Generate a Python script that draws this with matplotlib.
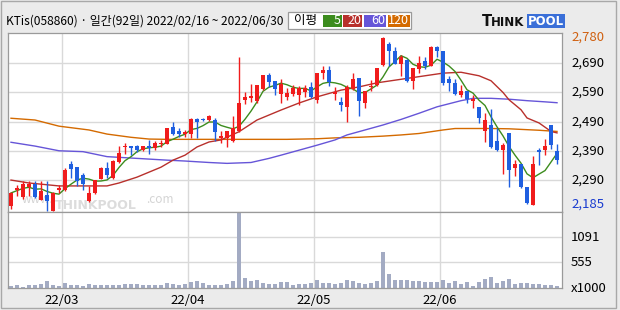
import matplotlib
matplotlib.use('Agg')
import matplotlib.pyplot as plt
import numpy as np
import pandas as pd
from matplotlib.patches import Rectangle

plt.rcParams['font.family'] = ['Noto Sans CJK KR', 'DejaVu Sans']

# ---------------- data ----------------
title = "KTis(058860) · 일간(92일) 2022/02/16 ~ 2022/06/30"
month_labels = ["22/03", "22/04", "22/05", "22/06"]
month_start_idx = [9, 30, 51, 72]

open_ = [2204, 2256, 2233, 2266, 2278, 2224, 2239, 2187, 2258, 2256,
         2346, 2334, 2307, 2219, 2247, 2296, 2332, 2298, 2354, 2404,
         2406, 2406, 2392, 2406, 2400, 2415, 2415, 2471, 2457, 2448,
         2448, 2499, 2501, 2495, 2495, 2433, 2434, 2423, 2457, 2563,
         2571, 2562, 2603, 2648, 2628, 2584, 2574, 2584, 2582, 2591,
         2607, 2565, 2656, 2665, 2584, 2556, 2540, 2603, 2639, 2554,
         2608, 2614, 2684, 2755, 2733, 2688, 2701, 2628, 2671, 2699,
         2682, 2745, 2730, 2635, 2624, 2582, 2596, 2562, 2540, 2460,
         2478, 2426, 2392, 2451, 2332, 2346, 2267, 2207, 2395, 2395,
         2478, 2389]
high = [2249, 2275, 2287, 2289, 2287, 2287, 2287, 2249, 2275, 2332,
        2355, 2336, 2315, 2270, 2292, 2334, 2351, 2359, 2407, 2417,
        2406, 2412, 2406, 2429, 2423, 2429, 2468, 2488, 2468, 2463,
        2503, 2503, 2503, 2514, 2503, 2457, 2457, 2510, 2710, 2593,
        2620, 2615, 2650, 2656, 2628, 2635, 2605, 2616, 2613, 2616,
        2625, 2658, 2679, 2682, 2607, 2573, 2616, 2656, 2639, 2596,
        2633, 2675, 2780, 2762, 2745, 2718, 2703, 2675, 2713, 2710,
        2747, 2747, 2732, 2647, 2635, 2616, 2596, 2582, 2540, 2520,
        2533, 2468, 2417, 2451, 2361, 2346, 2267, 2372, 2400, 2431,
        2478, 2415]
low = [2192, 2236, 2226, 2236, 2230, 2224, 2187, 2185, 2247, 2252,
       2298, 2270, 2258, 2216, 2245, 2294, 2298, 2296, 2350, 2381,
       2375, 2386, 2390, 2381, 2395, 2404, 2414, 2446, 2438, 2438,
       2434, 2434, 2493, 2491, 2426, 2417, 2404, 2421, 2455, 2551,
       2556, 2554, 2599, 2610, 2582, 2554, 2565, 2579, 2546, 2576,
       2571, 2554, 2635, 2613, 2565, 2528, 2489, 2599, 2510, 2537,
       2596, 2611, 2679, 2682, 2686, 2647, 2626, 2603, 2656, 2670,
       2680, 2710, 2616, 2596, 2582, 2576, 2554, 2537, 2486, 2421,
       2400, 2389, 2313, 2266, 2306, 2264, 2211, 2207, 2343, 2378,
       2397, 2346]
close = [2247, 2263, 2278, 2278, 2233, 2253, 2219, 2247, 2263, 2326,
         2330, 2289, 2279, 2247, 2292, 2332, 2307, 2357, 2382, 2408,
         2400, 2392, 2406, 2400, 2417, 2419, 2468, 2448, 2448, 2454,
         2499, 2488, 2495, 2510, 2454, 2440, 2457, 2468, 2554, 2574,
         2579, 2615, 2648, 2625, 2603, 2618, 2588, 2605, 2605, 2605,
         2573, 2658, 2665, 2625, 2593, 2548, 2608, 2635, 2562, 2596,
         2610, 2673, 2775, 2732, 2688, 2710, 2628, 2673, 2690, 2679,
         2745, 2730, 2624, 2624, 2585, 2596, 2567, 2567, 2503, 2495,
         2403, 2395, 2412, 2324, 2346, 2266, 2213, 2346, 2386, 2406,
         2412, 2361]
volume = [51, 72, 29, 72, 58, 87, 160, 72, 51, 116,
          72, 72, 51, 87, 72, 58, 58, 72, 72, 94,
          80, 80, 72, 58, 58, 72, 116, 94, 58, 80,
          123, 160, 116, 72, 72, 58, 80, 145, 1595, 210,
          152, 181, 116, 94, 94, 138, 138, 58, 94, 94,
          108, 181, 116, 101, 87, 116, 181, 145, 101, 87,
          101, 160, 768, 290, 181, 181, 167, 152, 160, 130,
          138, 123, 181, 116, 145, 87, 130, 51, 138, 203,
          246, 116, 152, 203, 87, 108, 116, 94, 87, 72,
          72, 51]

# moving averages (index, value)
ma20_idx = [0, 3, 8, 16, 18, 21, 25, 27, 29, 31, 33, 35, 38, 41, 45, 48, 51,
            55, 58, 61, 65, 70, 72, 75, 78, 80, 82, 83, 85, 86, 88, 90, 91]
ma20_val = [2291, 2281, 2271, 2271, 2281, 2301, 2335, 2359, 2376, 2404, 2421,
            2428, 2456, 2496, 2530, 2554, 2575, 2598, 2609, 2623, 2635, 2650,
            2656, 2659, 2647, 2630, 2590, 2565, 2531, 2503, 2486, 2457, 2452]
ma60_idx = [0, 4, 8, 12, 16, 21, 26, 29, 33, 36, 40, 43, 45, 48, 51, 54, 56,
            59, 62, 65, 68, 71, 75, 77, 80, 83, 86, 89, 91]
ma60_val = [2420, 2407, 2391, 2388, 2371, 2365, 2359, 2356, 2351, 2348, 2351,
            2365, 2376, 2393, 2410, 2428, 2445, 2462, 2479, 2498, 2519, 2541,
            2562, 2570, 2570, 2567, 2562, 2558, 2555]
ma120_idx = [0, 4, 8, 13, 16, 20, 23, 26, 46, 51, 54, 58, 62, 65, 68, 72, 74,
             80, 83, 86, 88, 91]
ma120_val = [2502, 2496, 2475, 2462, 2448, 2437, 2431, 2430, 2430, 2432, 2435,
             2437, 2441, 2445, 2450, 2462, 2467, 2467, 2466, 2463, 2461, 2457]

price_ticks = [2290, 2390, 2490, 2590, 2690]
vol_ticks = [555, 1091]

# ---------------- styling ----------------
W, H = 620, 310
UP = '#f01c1c'
DOWN = '#1f5fe0'
C5, C20, C60, C120 = '#3c8c1e', '#b8302c', '#6655d8', '#d46a00'
GRID = '#d9d9d9'
FRAME = '#9a9a9a'

def fx(px):
    return px / W

def fy(py):
    return 1 - py / H

fig = plt.figure(figsize=(6.2, 3.1), dpi=100)
fig.patch.set_facecolor('#ebebeb')

ax = fig.add_axes([fx(8), fy(212), fx(562) - fx(8), fy(33) - fy(212)])
axv = fig.add_axes([fx(8), fy(288), fx(562) - fx(8), fy(212) - fy(288)], sharex=ax)

n = len(close)
idx = np.arange(n)
o = np.array(open_, float)
c = np.array(close, float)
h = np.array(high, float)
l = np.array(low, float)
up = c >= o
colors = np.where(up, UP, DOWN)

for a in (ax, axv):
    a.set_facecolor('white')
    for s in a.spines.values():
        s.set_color(FRAME)
        s.set_linewidth(0.9)
    a.tick_params(left=False, right=False, bottom=False, top=False,
                  labelleft=False, labelbottom=False)
    for m in month_start_idx:
        a.axvline(m - 0.5, color=GRID, lw=1.0, zorder=0)

for p in price_ticks:
    ax.axhline(p, color=GRID, lw=1.0, zorder=0)
for v in vol_ticks:
    axv.axhline(v, color=GRID, lw=1.0, zorder=0)

ax.set_xlim(-0.5, 91.83)
ax.set_ylim(2182, 2793)
axv.set_ylim(0, 1626)

# watermark
ax.text(0.025, 0.035, "www.", transform=ax.transAxes, fontsize=8.5,
        color='#d4d4d4', ha='left', va='bottom', zorder=0.5)
ax.text(0.085, 0.0, "THINKPOOL", transform=ax.transAxes, fontsize=9,
        fontweight='bold', color='#dcdcdc', ha='left', va='bottom', zorder=0.5,
        family='DejaVu Sans')
ax.text(0.25, 0.035, ".com", transform=ax.transAxes, fontsize=8.5,
        color='#d4d4d4', ha='left', va='bottom', zorder=0.5)

# moving averages
ma5 = pd.Series(c).rolling(5, min_periods=1).mean().to_numpy()
ax.plot(ma120_idx, ma120_val, color=C120, lw=1.0, zorder=2)
ax.plot(ma60_idx, ma60_val, color=C60, lw=1.0, zorder=2)
ax.plot(ma20_idx, ma20_val, color=C20, lw=1.0, zorder=2)
ax.plot(idx, ma5, color=C5, lw=1.0, zorder=2)

# candles
ax.vlines(idx, l, h, colors=colors, lw=1.0, zorder=3)
body_bottom = np.minimum(o, c)
body_h = np.maximum(np.abs(c - o), 3.5)
ax.bar(idx, body_h, bottom=body_bottom, width=0.8, color=colors,
       linewidth=0, zorder=4)

# volume
axv.bar(idx, volume, width=0.82, color='#a3abc3', linewidth=0, zorder=2)

# right labels (price)
tr = ax.get_yaxis_transform()
lx = 1.0 + (571 - 562) / 554
for p in price_ticks:
    ax.text(lx, p, f"{p:,}", transform=tr, fontsize=9.5, ha='left',
            va='center', color='black')
ax.text(lx, max(high), f"{max(high):,}", transform=tr, fontsize=9.5,
        ha='left', va='center', color='#d06010')
ax.text(lx, min(low), f"{min(low):,}", transform=tr, fontsize=9.5,
        ha='left', va='bottom', color='#1a3cd0')

trv = axv.get_yaxis_transform()
for v in vol_ticks:
    axv.text(lx, v, f"{v}", transform=trv, fontsize=9.5, ha='left',
             va='center', color='black')
axv.text(lx, 0, "x1000", transform=trv, fontsize=9.5, ha='left',
         va='center', color='black')

# x labels
trx = axv.get_xaxis_transform()
for m, lab in zip(month_start_idx, month_labels):
    axv.text(m - 0.5, -0.16, lab, transform=trx, fontsize=9.5,
             ha='center', va='center', color='black')

# title
fig.text(fx(6), fy(21), title, fontsize=8.6, ha='left', va='center',
         color='black')

# legend box
fig.patches.append(Rectangle((fx(288), fy(29)), fx(411) - fx(288),
                             fy(12) - fy(29), transform=fig.transFigure,
                             facecolor='white', edgecolor=FRAME, lw=0.9))
fig.text(fx(294), fy(20.5), "이평", fontsize=9, ha='left', va='center')
boxes = [(323, 342, C5, "5"), (343, 362, C20, "20"),
         (364, 386, C60, "60"), (388, 410, C120, "120")]
for x0, x1, col, lab in boxes:
    fig.patches.append(Rectangle((fx(x0), fy(27)), fx(x1) - fx(x0),
                                 fy(15) - fy(27), transform=fig.transFigure,
                                 facecolor=col, edgecolor='none'))
    fig.text(fx(x1 - 1), fy(21), lab, fontsize=9, ha='right', va='center',
             color='white')

# logo
fig.text(fx(482), fy(21.5), "T", fontsize=10.5, fontweight='bold',
         ha='left', va='center', color='#111111', family='DejaVu Sans')
fig.text(fx(491), fy(22.3), "HINK", fontsize=8.5, fontweight='bold',
         ha='left', va='center', color='#111111', family='DejaVu Sans')
fig.patches.append(Rectangle((fx(527), fy(28)), fx(565) - fx(527),
                             fy(14) - fy(28), transform=fig.transFigure,
                             facecolor='#3a6fd8', edgecolor='none'))
fig.text(fx(546), fy(21.5), "POOL", fontsize=8.5, fontweight='bold',
         ha='center', va='center', color='white', family='DejaVu Sans')

# outer frame
fig.patches.append(Rectangle((fx(1), fy(308)), fx(616) - fx(1),
                             fy(1) - fy(308), transform=fig.transFigure,
                             facecolor='none', edgecolor='#a8a8a8', lw=1.0))

fig.savefig('out.png', dpi=100, facecolor=fig.get_facecolor())
